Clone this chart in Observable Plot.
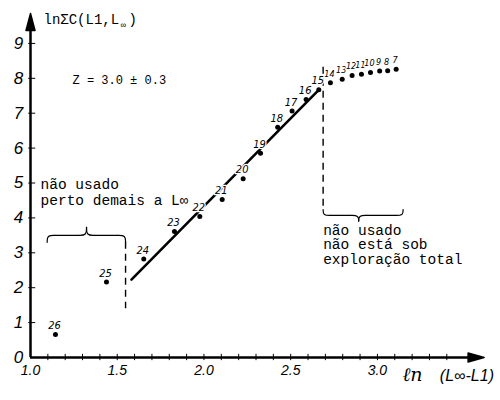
<!DOCTYPE html>
<html><head><meta charset="utf-8">
<script src="https://cdn.jsdelivr.net/npm/d3@7"></script>
<script src="https://cdn.jsdelivr.net/npm/@observablehq/plot@0.6"></script>
<style>body{margin:0;background:#fff}</style>
</head><body><div id="chart"></div>
<script>
// ---- data ----
const pointLabels = ["26","25","24","23","22","21","20","19","18","17","16","15","14","13","12","11","10","9","8","7"];
const xValues = [1.144,1.438,1.653,1.830,1.976,2.105,2.226,2.326,2.425,2.508,2.589,2.662,2.729,2.797,2.854,2.908,2.960,3.013,3.059,3.108];
const yValues = [0.66,2.16,2.82,3.61,4.04,4.53,5.12,5.85,6.60,7.06,7.39,7.67,7.87,7.97,8.08,8.12,8.17,8.21,8.22,8.26];
const fitX = [1.582, 2.662];
const fitY = [2.23, 7.67];
const xTickValues = [1.0, 1.5, 2.0, 2.5, 3.0];
const xTickLabels = ["1.0", "1.5", "2.0", "2.5", "3.0"];
const xMinorTicks = [1.1,1.2,1.3,1.4,1.5,1.6,1.7,1.8,1.9,2.0,2.1,2.2,2.3,2.4,2.5,2.6,2.7,2.8,2.9,3.0,3.1,3.2,3.3,3.4];
const yTickValues = [0,1,2,3,4,5,6,7,8,9];
const yTickLabels = ["0","1","2","3","4","5","6","7","8","9"];
const leftCut = 1.548, rightCut = 2.687;
const leftNote = "não usado\nperto demais a L∞";
const rightNote = "não usado\nnão está sob\nexploração total";
const zNote = "Z = 3.0 ± 0.3";
const yTitleParts = ["lnΣC(L1,L", "∞", ")"];
const xTitleA = "ℓn", xTitleB = "(L∞-L1)";

// ---- derived tables ----
const points = pointLabels.map((t, i) => ({label: t, x: xValues[i], y: yValues[i], small: +t <= 14}));
const fitLine = fitX.map((x, i) => ({x, y: fitY[i]}));
function brace(x0, x1, xm, yEnd, yFlat, yTip, r) {
  const segs = [
    [[x0,yEnd],[x0,yFlat],[x0+r,yFlat]],
    [[x0+r,yFlat],[xm-r,yFlat]],
    [[xm-r,yFlat],[xm,yFlat],[xm,yTip]],
    [[xm,yTip],[xm,yFlat],[xm+r,yFlat]],
    [[xm+r,yFlat],[x1-r,yFlat]],
    [[x1-r,yFlat],[x1,yFlat],[x1,yEnd]]
  ];
  return segs.flatMap((s, k) => s.map(([x, y]) => ({x, y, k})));
}
const leftBrace = brace(1.096, leftCut, 1.323, 3.30, 3.50, 3.73, 0.045);
const rightBrace = brace(rightCut, 3.148, 2.892, 4.24, 4.07, 3.91, 0.045);

const arrowHead = {draw(ctx, l, r) { ctx.moveTo(-r, 0); ctx.lineTo(0, -l); ctx.lineTo(r, 0); ctx.closePath(); }};
const mono = "Liberation Mono, DejaVu Sans Mono, monospace";
const hand = "Liberation Sans, DejaVu Sans, sans-serif";

const chart = Plot.plot({
  width: 500, height: 400,
  marginLeft: 30, marginRight: 19, marginTop: 15, marginBottom: 43,
  x: {domain: [1, 3.6], axis: null},
  y: {domain: [0, 9.8], axis: null},
  style: {background: "white", overflow: "visible"},
  marks: [
    // axes
    Plot.ruleY([0], {x1: 1, x2: 3.56, strokeWidth: 2.5}),
    Plot.ruleX([1], {y1: 0, y2: 9.6, strokeWidth: 2.5}),
    Plot.vector([0], {x: 3.615, y: 0, rotate: 90, length: 16, r: 4.5, anchor: "end", shape: arrowHead, fill: "black", stroke: "black"}),
    Plot.vector([0], {x: 1, y: 9.86, rotate: 0, length: 17, r: 4.5, anchor: "end", shape: arrowHead, fill: "black", stroke: "black"}),
    Plot.ruleX(xMinorTicks, {x: d => d, y1: -0.09, y2: 0.09, strokeWidth: 1}),
    Plot.ruleY(yTickValues.slice(1), {y: d => d, x1: 0.99, x2: 1.03, strokeWidth: 1}),
    Plot.text(xTickValues, {x: d => d, y: 0, dy: 13, text: (d, i) => xTickLabels[i], fontSize: 14, fontStyle: "italic", fontFamily: hand}),
    Plot.text(yTickValues, {x: 1, y: d => d, dx: -12, text: (d, i) => yTickLabels[i], fontSize: 17, fontStyle: "italic", fontFamily: hand}),
    // titles
    Plot.text([yTitleParts[0]], {x: 1.075, y: 9.57, text: d => d, textAnchor: "start", lineAnchor: "bottom", fontSize: 14, fontFamily: mono}),
    Plot.text([yTitleParts[1]], {x: 1.075, y: 9.57, dx: 80, dy: 4, text: d => d, textAnchor: "middle", lineAnchor: "bottom", fontSize: 9, fontFamily: mono}),
    Plot.text([yTitleParts[2]], {x: 1.075, y: 9.57, dx: 85, text: d => d, textAnchor: "start", lineAnchor: "bottom", fontSize: 14, fontFamily: mono}),
    Plot.text([xTitleA], {x: 3.144, y: 0, dy: 23, text: d => d, textAnchor: "start", lineAnchor: "bottom", fontSize: 19, fontStyle: "italic", fontFamily: "DejaVu Serif, serif"}),
    Plot.text([xTitleB], {x: 3.36, y: 0, dy: 23, text: d => d, textAnchor: "start", lineAnchor: "bottom", fontSize: 16, fontStyle: "italic", fontFamily: hand}),
    // annotations
    Plot.text([zNote], {x: 1.242, y: 7.85, text: d => d, textAnchor: "start", lineAnchor: "bottom", fontSize: 12, fontFamily: mono}),
    Plot.text([leftNote], {x: 1.058, y: 4.38, text: d => d, textAnchor: "start", lineAnchor: "bottom", lineHeight: 1.07, fontSize: 14.5, fontFamily: mono}),
    Plot.text([rightNote], {x: rightCut, y: 2.69, text: d => d, textAnchor: "start", lineAnchor: "bottom", lineHeight: 1.0, fontSize: 14.5, fontFamily: mono}),
    Plot.ruleX([leftCut], {x: d => d, y1: 3.30, y2: 1.40, strokeDasharray: "7,5", strokeWidth: 1.4}),
    Plot.ruleX([rightCut], {x: d => d, y1: 8.32, y2: 4.24, strokeDasharray: "7,5", strokeWidth: 1.4}),
    Plot.line(leftBrace, {x: "x", y: "y", z: "k", curve: "basis", strokeWidth: 1.2}),
    Plot.line(rightBrace, {x: "x", y: "y", z: "k", curve: "basis", strokeWidth: 1.2}),
    // data
    Plot.line(fitLine, {x: "x", y: "y", strokeWidth: 2.6}),
    Plot.text(points, {x: "x", y: "y", text: "label", dx: -1, dy: -9, fontSize: d => d.small ? 9 : 11, fontStyle: "italic", fontFamily: "DejaVu Sans Condensed, DejaVu Sans, sans-serif", fill: "black", stroke: "white", strokeWidth: 2.5}),
    Plot.dot(points, {x: "x", y: "y", r: 2.5, fill: "black"})
  ]
});
document.getElementById("chart").appendChild(chart);
</script>
</body></html>
